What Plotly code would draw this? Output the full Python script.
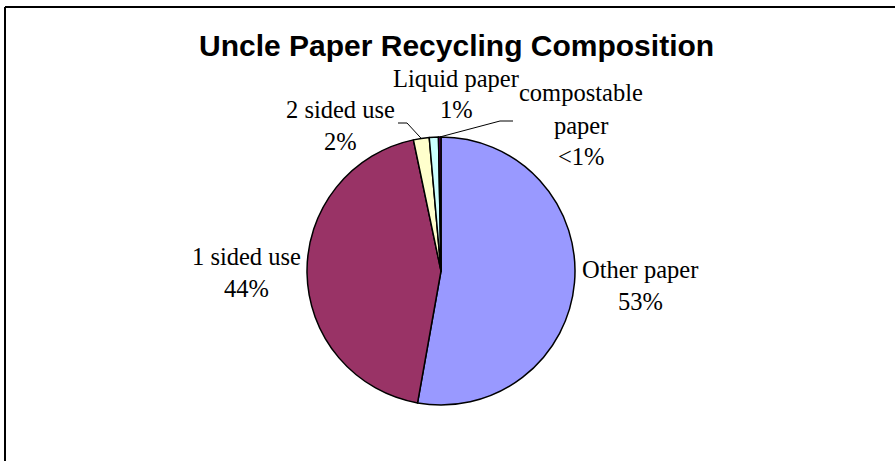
import math
import plotly.graph_objects as go

# ---- data ----
categories = ["Other paper", "1 sided use", "2 sided use", "Liquid paper", "compostable paper"]
values = [52.8, 43.9, 1.9, 1.1, 0.3]
pct_labels = ["53%", "44%", "2%", "1%", "<1%"]
colors = ["#9999FF", "#993366", "#FFFFCC", "#CCFFFF", "#660066"]
title_text = "Uncle Paper Recycling Composition"

W, H = 895, 461
CX, CY, R = 441, 271, 134  # pie centre / radius in pixels


def px(x):
    return x / W


def py(y):
    return 1 - y / H


fig = go.Figure()
fig.add_trace(go.Pie(
    labels=categories,
    values=values,
    sort=False,
    direction="clockwise",
    rotation=0,
    textinfo="none",
    marker=dict(colors=colors, line=dict(color="black", width=1.5)),
    domain=dict(x=[px(CX - R), px(CX + R)], y=[py(CY + R), py(CY - R)]),
    showlegend=False,
    hoverinfo="label+percent",
))

label_font = dict(family="Times New Roman, Liberation Serif, serif", size=24.5, color="black")

# label text blocks: (lines, centre x, first-line centre y)
label_specs = [
    (["Other paper", pct_labels[0]], 640, 269),
    (["1 sided use", pct_labels[1]], 246, 256),
    (["2 sided use", pct_labels[2]], 340, 109),
    (["Liquid paper", pct_labels[3]], 456, 78),
    (["compostable", "paper", pct_labels[4]], 581, 93),
]
LINE_GAP = 32
annotations = []
for lines, x, y in label_specs:
    for i, t in enumerate(lines):
        annotations.append(dict(
            x=px(x), y=py(y + i * LINE_GAP), xref="paper", yref="paper",
            text=t, showarrow=False, font=label_font,
            xanchor="center", yanchor="middle",
        ))

annotations.append(dict(
    x=px(456), y=py(45), xref="paper", yref="paper", text="<b>" + title_text + "</b>",
    showarrow=False, font=dict(family="Arial, Liberation Sans, sans-serif", size=30, color="black"),
    xanchor="center", yanchor="middle",
))


# leader lines for small slices, anchored at the slice mid-angle on the rim
def slice_mid_point(idx):
    total = sum(values)
    start = sum(values[:idx])
    frac = (start + values[idx] / 2) / total
    ang = frac * 2 * math.pi
    return CX + R * math.sin(ang), CY - R * math.cos(ang)


shapes = []
leaders = [
    (2, (407, 123), (398, 123)),
    (4, (500, 121), (513, 121)),
]
for idx, elbow, end in leaders:
    sx, sy = slice_mid_point(idx)
    path = f"M {px(sx)},{py(sy)} L {px(elbow[0])},{py(elbow[1])} L {px(end[0])},{py(end[1])}"
    shapes.append(dict(type="path", path=path, xref="paper", yref="paper",
                       line=dict(color="black", width=1)))

# chart frame (top and left edges visible)
shapes.append(dict(type="line", xref="paper", yref="paper", x0=px(5), y0=py(7), x1=1.0, y1=py(7),
                   line=dict(color="black", width=2)))
shapes.append(dict(type="line", xref="paper", yref="paper", x0=px(5), y0=py(7), x1=px(5), y1=0,
                   line=dict(color="black", width=2)))

fig.update_layout(
    width=W, height=H,
    margin=dict(l=0, r=0, t=0, b=0),
    paper_bgcolor="white", plot_bgcolor="white",
    annotations=annotations,
    shapes=shapes,
)

fig.write_html("out.html", config={"displayModeBar": False},
               post_script="document.body.style.margin='0';")
